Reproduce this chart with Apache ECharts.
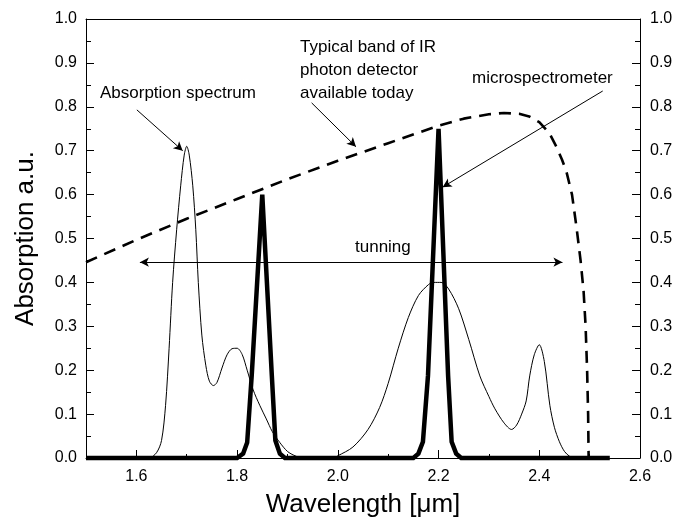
<!DOCTYPE html>
<html>
<head>
<meta charset="utf-8">
<script src="https://cdn.jsdelivr.net/npm/echarts@6/dist/echarts.min.js"></script>
<style>
html,body{margin:0;padding:0;background:#fff;}
#chart{width:684px;height:523px;}
</style>
</head>
<body>
<div id="chart"></div>
<script>
// ---- data ----
const absX = [1.50,1.60,1.625,1.640,1.650,1.658,1.665,1.672,1.680,1.688,1.695,1.700,1.705,1.712,1.718,1.723,1.730,1.738,1.745,1.753,1.760,1.770,1.780,1.790,1.800,1.810,1.820,1.832,1.845,1.858,1.870,1.885,1.900,1.915,1.930,1.990,2.000,2.030,2.060,2.083,2.100,2.120,2.140,2.160,2.180,2.190,2.205,2.220,2.240,2.260,2.282,2.300,2.312,2.330,2.345,2.355,2.365,2.374,2.381,2.390,2.400,2.410,2.421,2.430,2.440,2.450,2.460,2.470];
const absY = [0,0,0,0.012,0.04,0.12,0.25,0.40,0.52,0.62,0.69,0.71,0.69,0.62,0.52,0.40,0.28,0.21,0.175,0.165,0.172,0.205,0.235,0.249,0.25,0.236,0.20,0.155,0.12,0.089,0.06,0.035,0.015,0.005,0,0,0.005,0.025,0.065,0.115,0.17,0.25,0.32,0.37,0.395,0.40,0.40,0.385,0.34,0.27,0.187,0.14,0.112,0.08,0.065,0.075,0.10,0.13,0.187,0.235,0.258,0.22,0.12,0.07,0.037,0.015,0.004,0];

const microX = [1.50,1.80,1.812,1.820,1.829,1.850,1.869,1.876,1.885,1.895,2.150,2.160,2.169,2.179,2.200,2.219,2.226,2.235,2.245,2.540];
const microY = [0,0,0.01,0.035,0.187,0.60,0.187,0.04,0.01,0,0,0.01,0.037,0.187,0.75,0.187,0.037,0.01,0,0];

const bandX = [1.50,1.60,1.70,1.80,1.90,2.00,2.10,2.20,2.25,2.30,2.33,2.36,2.38,2.40,2.42,2.434,2.445,2.454,2.465,2.474,2.482,2.488,2.492,2.495,2.497,2.498];
const bandY = [0.446,0.497,0.545,0.59,0.635,0.677,0.717,0.757,0.773,0.783,0.786,0.784,0.778,0.765,0.74,0.709,0.68,0.652,0.60,0.525,0.45,0.38,0.30,0.20,0.10,0.0];

const xLabelValues = [1.6,1.8,2.0,2.2,2.4,2.6];
const xMinorValues = [1.7,1.9,2.1,2.3,2.5];

const pairs = (xs, ys) => xs.map((x, i) => [x, ys[i]]);

const chart = echarts.init(document.getElementById('chart'));
const FONT = '"Liberation Sans", Arial, sans-serif';
const black = '#000';

const option = {
  animation: false,
  backgroundColor: '#fff',
  grid: { left: 86, right: 44, top: 19, bottom: 60, containLabel: false },
  xAxis: [
    {
      type: 'value', min: 1.5, max: 2.6, interval: 0.1, position: 'bottom',
      name: 'Wavelength [\u03bcm]', nameLocation: 'middle', nameGap: 34,
      nameTextStyle: { fontFamily: FONT, fontSize: 26, color: black },
      axisLine: { show: true, lineStyle: { color: black, width: 1 } },
      axisTick: { show: true, inside: true, length: 8, customValues: xLabelValues, lineStyle: { color: black } },
      axisLabel: { show: true, customValues: xLabelValues, margin: 11, fontFamily: FONT, fontSize: 16, color: black,
                   formatter: v => v.toFixed(1) },
      splitLine: { show: false }
    },
    {
      type: 'value', min: 1.5, max: 2.6, interval: 0.1, position: 'bottom',
      axisLine: { show: false },
      axisTick: { show: true, inside: true, length: 4, customValues: xMinorValues, lineStyle: { color: black } },
      axisLabel: { show: false },
      splitLine: { show: false }
    },
    {
      type: 'value', min: 1.5, max: 2.6, interval: 0.1, position: 'top',
      axisLine: { show: true, lineStyle: { color: black, width: 1 } },
      axisTick: { show: false }, axisLabel: { show: false }, splitLine: { show: false }
    }
  ],
  yAxis: [
    {
      type: 'value', min: 0, max: 1, interval: 0.1, position: 'left',
      name: 'Absorption a.u.', nameLocation: 'middle', nameGap: 47, nameRotate: 90,
      nameTextStyle: { fontFamily: FONT, fontSize: 26, color: black },
      axisLine: { show: true, lineStyle: { color: black, width: 1 } },
      axisTick: { show: true, inside: true, length: 8, lineStyle: { color: black } },
      minorTick: { show: true, splitNumber: 2, length: 5, lineStyle: { color: black } },
      axisLabel: { margin: 9, fontFamily: FONT, fontSize: 16, color: black, formatter: v => v.toFixed(1) },
      splitLine: { show: false }
    },
    {
      type: 'value', min: 0, max: 1, interval: 0.1, position: 'right',
      axisLine: { show: true, lineStyle: { color: black, width: 1 } },
      axisTick: { show: true, inside: true, length: 8, lineStyle: { color: black } },
      minorTick: { show: true, splitNumber: 2, length: 5, lineStyle: { color: black } },
      axisLabel: { margin: 10, fontFamily: FONT, fontSize: 16, color: black, formatter: v => v.toFixed(1) },
      splitLine: { show: false }
    }
  ],
  series: [
    {
      name: 'Absorption spectrum', type: 'line', xAxisIndex: 0, yAxisIndex: 0,
      data: pairs(absX, absY), showSymbol: false, smooth: 0.3, clip: false,
      lineStyle: { color: black, width: 1 }, z: 2
    },
    {
      name: 'IR detector band', type: 'line', xAxisIndex: 0, yAxisIndex: 0,
      data: pairs(bandX, bandY), showSymbol: false, smooth: false, clip: false,
      lineStyle: { color: black, width: 2.6, type: [12, 8] }, z: 3
    },
    {
      name: 'microspectrometer', type: 'line', xAxisIndex: 0, yAxisIndex: 0,
      data: pairs(microX, microY), showSymbol: false, smooth: false, clip: false,
      lineStyle: { color: black, width: 4.5, join: 'miter' }, z: 4
    },
    {
      name: 'annotations', type: 'line', xAxisIndex: 0, yAxisIndex: 0, data: [],
      markLine: {
        silent: true, animation: false,
        symbol: ['none', 'arrow'], symbolSize: [7, 9],
        label: { show: false },
        lineStyle: { color: black, width: 1, type: 'solid' },
        emphasis: { disabled: true },
        data: [
          [{ coord: [1.601, 0.793] }, { coord: [1.692, 0.700] }],
          [{ coord: [1.948, 0.809] }, { coord: [2.036, 0.709] }],
          [{ coord: [2.526, 0.836] }, { coord: [2.208, 0.617] }],
          [{ coord: [1.607, 0.446], symbol: 'arrow' }, { coord: [2.446, 0.446] }]
        ]
      }
    }
  ],
  graphic: [
    { type: 'text', left: 100, top: 85, style: { text: 'Absorption spectrum', font: '17px ' + FONT, fill: black } },
    { type: 'text', left: 300, top: 36, style: { text: 'Typical band of IR\nphoton detector\navailable today', font: '17px ' + FONT, lineHeight: 23, fill: black } },
    { type: 'text', left: 472, top: 70, style: { text: 'microspectrometer', font: '17px ' + FONT, fill: black } },
    { type: 'text', left: 355, top: 239, style: { text: 'tunning', font: '17px ' + FONT, fill: black } }
  ]
};
chart.setOption(option);
</script>
</body>
</html>
